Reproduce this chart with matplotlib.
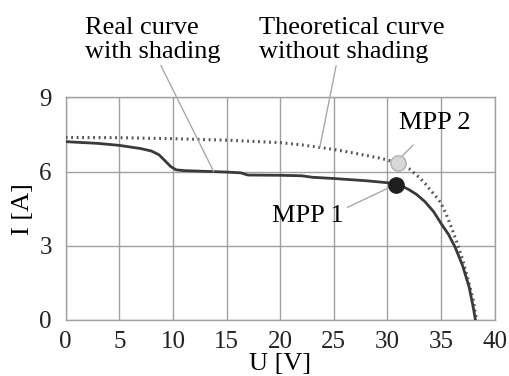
import matplotlib
matplotlib.use("Agg")
import matplotlib.pyplot as plt

plt.rcParams['font.family'] = ['Liberation Serif', 'DejaVu Serif']

# Real curve (with shading)
real_u = [0, 3, 5, 7, 8, 8.7, 9.3, 9.8, 10.3, 11, 13, 15, 16.3, 17, 20, 22, 23, 25, 28, 30, 30.8, 31.5, 32, 32.7, 33.5, 34.3, 35, 35.7, 36.3, 37, 37.6, 38.0, 38.2]
real_i = [7.21, 7.14, 7.06, 6.93, 6.83, 6.68, 6.42, 6.2, 6.07, 6.04, 6.01, 5.98, 5.95, 5.86, 5.85, 5.83, 5.77, 5.72, 5.63, 5.55, 5.46, 5.38, 5.27, 5.08, 4.78, 4.38, 3.9, 3.45, 2.95, 2.2, 1.35, 0.5, 0.0]

# Theoretical curve (without shading)
theo_u = [0, 5, 10, 15, 20, 22, 24, 26, 27, 28, 29, 30, 31, 32, 33, 33.5, 34, 34.5, 35, 35.5, 36, 36.5, 37, 37.5, 38, 38.3]
theo_i = [7.38, 7.37, 7.33, 7.27, 7.17, 7.08, 6.96, 6.82, 6.74, 6.65, 6.57, 6.47, 6.34, 6.12, 5.75, 5.52, 5.25, 5.0, 4.72, 4.25, 3.7, 3.1, 2.45, 1.65, 0.8, 0.0]

# Maximum power points
mpp1 = (30.8, 5.46)
mpp2 = (31.0, 6.36)

x_ticks = [0, 5, 10, 15, 20, 25, 30, 35, 40]
y_ticks = [0, 3, 6, 9]

fig = plt.figure(figsize=(5.09, 3.76), dpi=100)
ax = fig.add_axes([0.129, 0.149, 0.843, 0.592])

ax.plot(theo_u, theo_i, color='#555555', lw=2.2, linestyle=(0, (0.6, 1.2)), zorder=3)
ax.plot(real_u, real_i, color='#3a3a3a', lw=2.0, zorder=3)

ax.plot(*mpp2, 'o', ms=11, mfc='#d8d8d8', mec='#b0b0b0', mew=1, zorder=5)
ax.plot(*mpp1, 'o', ms=11, mfc='#1e1e1e', mec='#1e1e1e', zorder=5)

ax.set_xlim(0, 40)
ax.set_ylim(0, 9)
ax.set_xticks(x_ticks)
ax.set_yticks(y_ticks)
ax.tick_params(length=0, labelsize=18, colors='#222222')
ax.tick_params(axis='x', pad=8)
ax.tick_params(axis='y', pad=10)
ax.grid(True, color='#a0a0a0', lw=1)
for s in ax.spines.values():
    s.set_color('#a0a0a0')
    s.set_linewidth(1)

ax.set_xlabel('U [V]', fontsize=19, labelpad=0)
ax.set_ylabel('I [A]', fontsize=19, labelpad=4)

lc = '#a8a8a8'
ax.annotate('Real curve\nwith shading', xy=(13.8, 6.0), xytext=(1.8, 10.4),
            fontsize=19, ha='left', va='bottom', linespacing=1.1,
            annotation_clip=False,
            arrowprops=dict(arrowstyle='-', color=lc, lw=1, shrinkA=0, shrinkB=0,
                            relpos=(0.55, 0.0)))
ax.annotate('Theoretical curve\nwithout shading', xy=(23.7, 7.0), xytext=(18.0, 10.4),
            fontsize=19, ha='left', va='bottom', linespacing=1.1,
            annotation_clip=False,
            arrowprops=dict(arrowstyle='-', color=lc, lw=1, shrinkA=0, shrinkB=0,
                            relpos=(0.42, 0.0)))
ax.annotate('MPP 2', xy=(31.2, 6.55), xytext=(34.4, 7.95),
            fontsize=19, ha='center', va='center',
            arrowprops=dict(arrowstyle='-', color=lc, lw=1, shrinkA=8, shrinkB=0))
ax.annotate('MPP 1', xy=(30.4, 5.4), xytext=(22.6, 4.2),
            fontsize=19, ha='center', va='center',
            arrowprops=dict(arrowstyle='-', color=lc, lw=1, shrinkA=0, shrinkB=0,
                            relpos=(1.05, 0.9)))

fig.savefig('out.png', dpi=100, facecolor='white')
